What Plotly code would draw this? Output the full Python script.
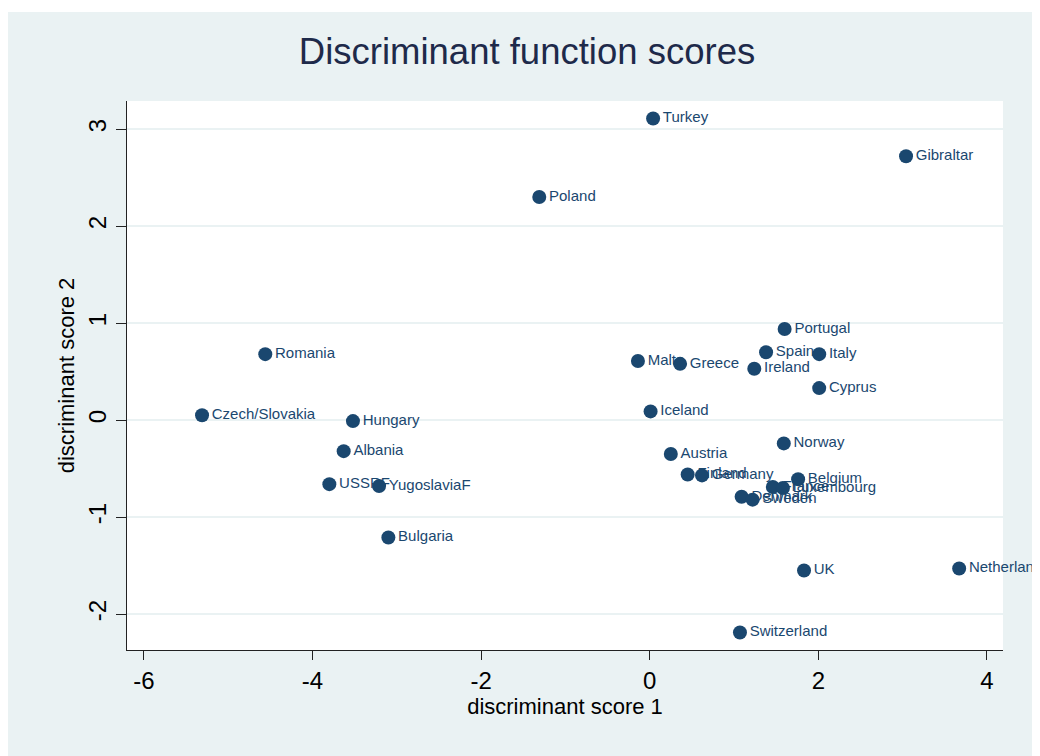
import plotly.graph_objects as go

countries = ["Turkey", "Gibraltar", "Poland", "Portugal", "Romania", "Malta", "Greece",
             "Spain", "Italy", "Ireland", "Cyprus", "Czech/Slovakia", "Hungary", "Iceland",
             "Albania", "Norway", "Austria", "Finland", "Germany", "Belgium", "France",
             "Luxembourg", "Denmark", "Sweden", "USSRF", "YugoslaviaF", "Bulgaria", "UK",
             "Netherlands", "Switzerland"]
score1 = [0.04, 3.04, -1.31, 1.60, -4.56, -0.14, 0.36, 1.38, 2.01, 1.24, 2.01, -5.31, -3.52,
          0.01, -3.63, 1.59, 0.25, 0.45, 0.62, 1.76, 1.46, 1.58, 1.09, 1.22, -3.80, -3.21,
          -3.10, 1.83, 3.67, 1.07]
score2 = [3.11, 2.72, 2.30, 0.94, 0.68, 0.61, 0.58, 0.70, 0.68, 0.53, 0.33, 0.05, -0.01,
          0.09, -0.32, -0.24, -0.35, -0.56, -0.57, -0.61, -0.69, -0.70, -0.79, -0.82, -0.66,
          -0.68, -1.21, -1.55, -1.53, -2.19]

xticks = [-6, -4, -2, 0, 2, 4]
yticks = [-2, -1, 0, 1, 2, 3]

navy = "#1a476f"
bg = "#EAF2F3"
font = "Liberation Sans, Arial, sans-serif"

W, H = 1032, 748
ML, MR, MT, MB = 119, 37, 93, 106
PW, PH = W - ML - MR, H - MT - MB

fig = go.Figure()
fig.add_trace(go.Scatter(
    x=score1, y=score2, mode="markers+text", text=countries,
    textposition="middle right", textfont=dict(size=15, color=navy, family=font),
    marker=dict(size=14, color=navy), cliponaxis=False, showlegend=False,
))

fig.update_layout(
    width=W, height=H,
    margin=dict(l=ML, r=MR, t=MT, b=MB),
    paper_bgcolor=bg, plot_bgcolor="white",
    title=dict(text="Discriminant function scores", x=519 / W, xanchor="center",
               xref="container", y=1 - 43 / H, yanchor="middle", yref="container",
               font=dict(size=36.5, color="#1e2a4a", family=font)),
    xaxis=dict(range=[-6.2, 4.19], tickvals=xticks, ticktext=[str(v) for v in xticks],
               showgrid=False, zeroline=False, showline=True, linecolor="#222222",
               linewidth=1, ticks="outside", ticklen=9, tickcolor="#222222",
               tickfont=dict(size=24, color="black", family=font),
               title=dict(text="discriminant score 1", standoff=4,
                          font=dict(size=22, color="black", family=font))),
    yaxis=dict(range=[-2.37, 3.29], tickvals=yticks, ticktext=[str(v) for v in yticks],
               showgrid=True, gridcolor=bg, gridwidth=1.5, zeroline=False,
               showline=True, linecolor="#222222", linewidth=1, ticks="outside",
               ticklen=10, tickcolor="#222222", tickangle=-90,
               tickfont=dict(size=24, color="black", family=font),
               title=dict(text="discriminant score 2", standoff=3,
                          font=dict(size=22, color="black", family=font))),
    shapes=[
        dict(type="rect", xref="paper", yref="paper", x0=-ML / PW, x1=(W - ML) / PW,
             y0=1 + (MT - 4) / PH, y1=1 + MT / PH, fillcolor="white", line_width=0,
             layer="below"),
    ],
)

fig.write_html("out.html")
